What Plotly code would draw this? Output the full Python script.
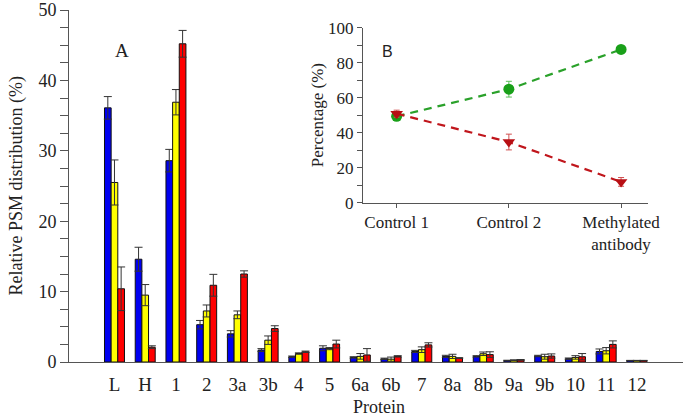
import plotly.graph_objects as go

# ---- Panel A data ----
proteins = ["L", "H", "1", "2", "3a", "3b", "4", "5", "6a", "6b", "7", "8a", "8b", "9a", "9b", "10", "11", "12"]
blue_vals = [36.1, 14.6, 28.6, 5.3, 4.0, 1.7, 0.75, 1.95, 0.65, 0.45, 1.5, 0.8, 0.8, 0.2, 0.85, 0.47, 1.5, 0.2]
blue_err = [1.6, 1.7, 1.6, 0.6, 0.45, 0.2, 0.1, 0.35, 0.1, 0.1, 0.15, 0.15, 0.1, 0.05, 0.1, 0.1, 0.35, 0.03]
yellow_vals = [25.5, 9.5, 36.9, 7.25, 6.7, 3.1, 1.2, 1.9, 0.8, 0.4, 1.75, 0.8, 1.17, 0.25, 0.75, 0.65, 1.6, 0.2]
yellow_err = [3.2, 1.5, 1.8, 0.85, 0.55, 0.6, 0.1, 0.15, 0.4, 0.3, 0.4, 0.3, 0.25, 0.05, 0.35, 0.25, 0.45, 0.03]
red_vals = [10.4, 2.1, 45.2, 10.9, 12.5, 4.75, 1.45, 2.55, 1.0, 0.8, 2.43, 0.56, 1.05, 0.3, 0.85, 0.75, 2.5, 0.2]
red_err = [3.1, 0.2, 1.9, 1.55, 0.45, 0.4, 0.1, 0.55, 0.9, 0.1, 0.3, 0.05, 0.4, 0.05, 0.3, 0.45, 0.5, 0.03]

# ---- Panel B data ----
conditions = ["Control 1", "Control 2", "Methylated antibody"]
condition_labels = ["Control 1", "Control 2", "Methylated<br>antibody"]
green_pct = [49.5, 65.0, 87.7]
green_err = [1.5, 4.5, 2.0]
red_pct = [51.0, 34.8, 12.0]
red_err_b = [2.0, 4.5, 2.5]

SERIF = "Liberation Serif"
fig = go.Figure()

for vals, errs, col in [(blue_vals, blue_err, "#0000f0"),
                        (yellow_vals, yellow_err, "#ffff00"),
                        (red_vals, red_err, "#ff0000")]:
    fig.add_trace(go.Bar(
        x=proteins, y=vals,
        marker=dict(color=col, line=dict(color="#111111", width=1)),
        error_y=dict(type="data", array=errs, visible=True, color="#333333", thickness=1, width=4),
        showlegend=False, xaxis="x", yaxis="y"))

fig.add_trace(go.Scatter(
    x=conditions, y=green_pct, mode="lines+markers",
    line=dict(color="#2aa12a", width=2.2, dash="8px,6px"),
    marker=dict(symbol="circle", size=11, color="#19a019"),
    error_y=dict(type="data", array=green_err, visible=True, color="#5cbf5c", thickness=1, width=3),
    showlegend=False, xaxis="x2", yaxis="y2"))
fig.add_trace(go.Scatter(
    x=conditions, y=red_pct, mode="lines+markers",
    line=dict(color="#c0161c", width=2.2, dash="8px,6px"),
    marker=dict(symbol="triangle-down", size=11, color="#b80f14"),
    error_y=dict(type="data", array=red_err_b, visible=True, color="#d05050", thickness=1, width=3),
    showlegend=False, xaxis="x2", yaxis="y2"))

axis_col = "#555555"
fig.update_layout(
    width=685, height=419,
    margin=dict(l=69, r=2, t=10, b=57, autoexpand=False),
    paper_bgcolor="white", plot_bgcolor="white",
    barmode="group", bargap=0.35, bargroupgap=0,
    font=dict(family=SERIF, size=19, color="#222222"),
    xaxis=dict(domain=[0, 1], range=[-1.48, 18.5], showline=True, linecolor=axis_col, linewidth=1,
               ticks="outside", ticklen=5, tickcolor="rgba(0,0,0,0)", showgrid=False, zeroline=False,
               automargin=False, ticklabeloverflow="allow", tickfont=dict(family=SERIF, size=19)),
    yaxis=dict(domain=[0, 1], range=[0, 50], showline=True, linecolor=axis_col, linewidth=1,
               ticks="outside", ticklen=8, tickcolor=axis_col, dtick=10, showgrid=False, zeroline=False,
               automargin=False, ticklabeloverflow="allow",
               minor=dict(dtick=2.5, ticks="outside", ticklen=8, tickcolor=axis_col, showgrid=False),
               tickfont=dict(family=SERIF, size=18)),
    xaxis2=dict(domain=[0.4788, 0.943], anchor="y2", range=[-0.30, 2.24], showline=True,
                linecolor=axis_col, linewidth=1, ticks="outside", ticklen=4, tickcolor=axis_col,
                showgrid=False, zeroline=False, tickvals=conditions, ticktext=condition_labels,
                automargin=False, tickfont=dict(family=SERIF, size=17)),
    yaxis2=dict(domain=[0.452, 0.949], anchor="x2", range=[0, 100], showline=True,
                linecolor=axis_col, linewidth=1, ticks="outside", ticklen=5, tickcolor=axis_col,
                dtick=20, showgrid=False, zeroline=False, automargin=False,
                minor=dict(dtick=10, ticks="outside", ticklen=5, tickcolor=axis_col, showgrid=False),
                tickfont=dict(family=SERIF, size=17)),
)

fig.add_annotation(text="Relative PSM distribution (%)", xref="paper", yref="paper",
                   x=-0.087, y=0.5, xanchor="center", yanchor="middle", textangle=-90,
                   showarrow=False, font=dict(family=SERIF, size=18))
fig.add_annotation(text="Protein", xref="paper", yref="paper", x=0.505, y=-0.128,
                   xanchor="center", yanchor="middle", showarrow=False,
                   font=dict(family=SERIF, size=18))
fig.add_annotation(text="Percentage (%)", xref="paper", yref="paper", x=0.405, y=0.70,
                   xanchor="center", yanchor="middle", textangle=-90, showarrow=False,
                   font=dict(family=SERIF, size=17))
fig.add_annotation(text="A", xref="paper", yref="paper", x=0.086, y=0.885,
                   xanchor="center", yanchor="middle", showarrow=False,
                   font=dict(family=SERIF, size=19))
fig.add_annotation(text="B", xref="paper", yref="paper", x=0.519, y=0.882,
                   xanchor="center", yanchor="middle", showarrow=False,
                   font=dict(family="Liberation Sans", size=16))

fig.write_html("out.html", config={"displayModeBar": False},
               post_script="document.body.style.margin='0';document.body.style.overflow='hidden';")
